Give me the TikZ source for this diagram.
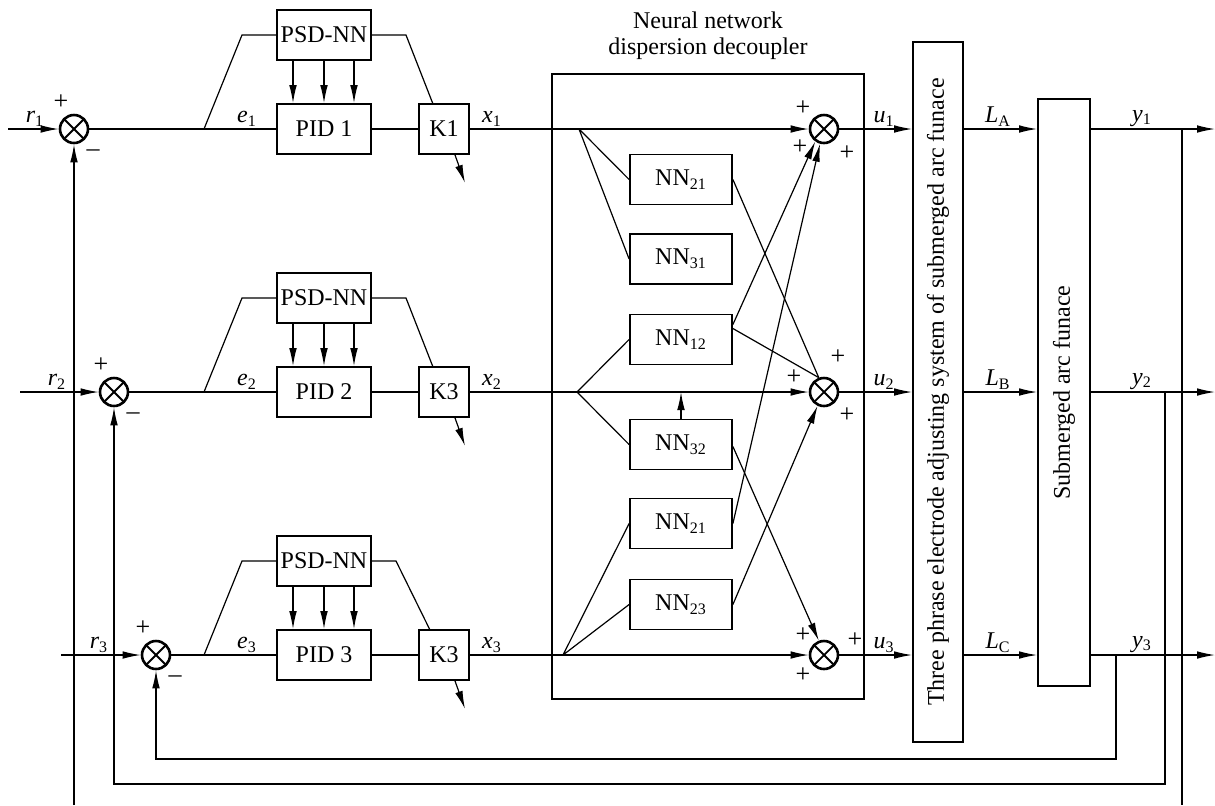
\documentclass[tikz,border=0pt]{standalone}
\usepackage{fontspec}
\setmainfont{Liberation Serif}
\usetikzlibrary{positioning, calc, arrows.meta}

\newcommand{\lab}[2]{\textit{#1}\textsubscript{#2}}

\tikzset{
  box/.style={draw, line width=0.9pt, minimum width=47pt, minimum height=25pt, inner sep=1pt},
  nnbox/.style={box, minimum width=51pt},
  kbox/.style={box, minimum width=25pt},
  summer/.style={circle, draw, line width=1.3pt, minimum size=14pt, inner sep=0pt,
    path picture={\draw[line width=0.9pt] (path picture bounding box.north west) -- (path picture bounding box.south east)
      (path picture bounding box.north east) -- (path picture bounding box.south west);}},
  sig/.style={inner sep=1pt, anchor=south},
  sgn/.style={inner sep=0pt, font=\fontsize{13}{14}\selectfont},
  >={Latex[length=9pt,width=3.8pt]}
}

\begin{document}
\begin{tikzpicture}[x=0.5pt,y=-0.5pt,line width=0.6pt,font=\fontsize{12}{13}\selectfont]
  \useasboundingbox (0,0) rectangle (1215,805);

  % three PID loops
  \foreach \i/\y/\sx/\ix/\rx/\tr/\kt/\kk in {1/129/74/8/35/406/433/K1, 2/392/114/20/57/406/433/K3, 3/655/156/61/99/396/430/K3}{
    \node[summer] (s\i) at (\sx,\y) {};
    \coordinate (in\i) at (\ix,\y);
    \coordinate (out\i) at (1215,\y);
    \node[box] (pid\i) at (324,\y) {PID \i};
    \node[box] (psd\i) at (324,\y-94) {PSD-NN};
    \node[kbox] (k\i) at (444,\y) {\kk};
    \node[sig] at (\rx,\y) {\lab{r}{\i}};
    \node[sig] at (247,\y) {\lab{e}{\i}};
    \node[sig] at (492,\y) {\lab{x}{\i}};
    \node[sgn] at ($(s\i)+(-13,-27)$) {+};
    \node[sgn] at ($(s\i)+(19,24)$) {\textendash};
    \draw[->] (in\i) -- (s\i);
    \draw (s\i) -- (pid\i) (pid\i) -- (k\i);
    \draw (204,\y) -- (242,\y-94) -- (psd\i.west);
    \draw (psd\i.east) -- (\tr,\y-94) -- (\kt,\y-25);
    \foreach \d in {-31,0,30}
      \draw[->] ($(psd\i.south)+(\d,0)$) -- ($(pid\i.north)+(\d,0)$);
    \draw[->] ($(k\i.south)+(11,0)$) -- +(10,28);
  }

  % decoupler
  \node[draw, line width=0.9pt, minimum width=156pt, minimum height=312.5pt] (nnd) at (708,386.5) {};
  \node[align=center] (title) at (708,36) {Neural network\\dispersion decoupler};

  \node[nnbox] (nn21a) at (681,179.5) {NN\textsubscript{21}};
  \node[nnbox] (nn31)  at (681,259)   {NN\textsubscript{31}};
  \node[nnbox] (nn12)  at (681,339.5) {NN\textsubscript{12}};
  \node[nnbox] (nn32)  at (681,444.5) {NN\textsubscript{32}};
  \node[nnbox] (nn21b) at (681,523.5) {NN\textsubscript{21}};
  \node[nnbox] (nn23)  at (681,604.5) {NN\textsubscript{23}};

  \node[summer] (o1) at (824,129) {};
  \node[summer] (o2) at (824,392) {};
  \node[summer] (o3) at (824,655) {};

  \coordinate (b1) at (579,129);
  \coordinate (b2) at (577,392);
  \coordinate (b3) at (563,655);

  \draw (b1) -- (nn21a.west) (b1) -- (nn31.west);
  \draw (b2) -- (nn12.west) (b2) -- (nn32.west);
  \draw (b3) -- (nn21b.west) (b3) -- (nn23.west);
  \draw[->] (nn32.north) -- (nn32.north |- b2);
  \draw (nn21a.east) -- (o2.110);
  \draw[->] ($(nn12.east)+(0,-15)$) -- (o1.235);
  \draw ($(nn12.east)+(0,-11)$) -- (o2.110);
  \draw[->] (nn21b.east) -- (o1.255);
  \draw[->] ($(nn32.east)+(0,2)$) -- (o3.110);
  \draw[->] (nn23.east) -- (o2.245);

  \node[sgn] at (803,108) {+};
  \node[sgn] at (800,147) {+};
  \node[sgn] at (847,153) {+};
  \node[sgn] at (838,357) {+};
  \node[sgn] at (794,377) {+};
  \node[sgn] at (847,415) {+};
  \node[sgn] at (803,635) {+};
  \node[sgn] at (855,640) {+};
  \node[sgn] at (803,675) {+};

  % plant (rotated: north is the left side, south the right side)
  \node[box, rotate=90, minimum width=350pt, minimum height=25pt] (adj) at (938,392)
    {Three phrase electrode adjusting system of submerged arc funace};
  \node[box, rotate=90, minimum width=293.5pt, minimum height=26pt] (saf) at (1064,392.5)
    {Submerged arc funace};

  \foreach \i/\L/\y in {1/A/129, 2/B/392, 3/C/655}{
    \draw[->] (k\i) -- (o\i);
    \draw[->] (o\i) -- (o\i -| adj.north);
    \draw[->] (o\i -| adj.south) -- (o\i -| saf.north);
    \draw[->] (o\i -| saf.south) -- (out\i);
    \node[sig] at (884,\y) {\lab{u}{\i}};
    \node[sig] at (998,\y) {\lab{L}{\L}};
    \node[sig] at (1142,\y) {\lab{y}{\i}};
  }

  % feedback
  \coordinate (j1) at (1182,129);
  \coordinate (j2) at (1165,392);
  \coordinate (j3) at (1116,655);
  \coordinate (f1) at (74,805);
  \coordinate (f2) at (114,784);
  \coordinate (f3) at (156,759);
  \draw (j1) -- (j1 |- f1);
  \draw[->] (f1) -- (s1);
  \draw[->] (j2) |- (f2) -- (s2);
  \draw[->] (j3) |- (f3) -- (s3);
\end{tikzpicture}
\end{document}
